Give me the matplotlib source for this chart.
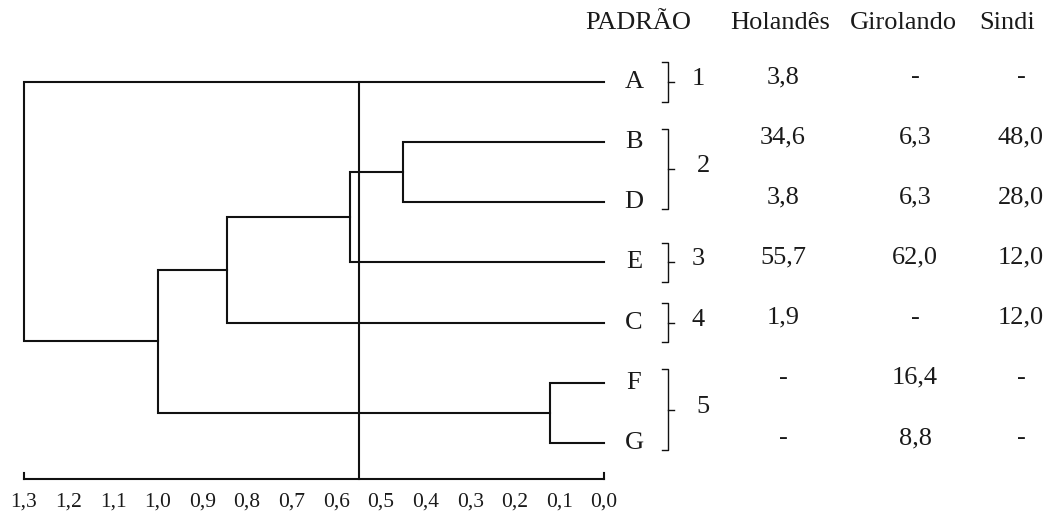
import matplotlib
matplotlib.use("Agg")
import matplotlib.pyplot as plt
import matplotlib.transforms as mtransforms

plt.rcParams['font.family'] = ['Liberation Serif', 'DejaVu Serif']

# leaves of the dendrogram (top to bottom)
leaves = ['A', 'B', 'D', 'E', 'C', 'F', 'G']
# merges: (left node, right node, distance)
merges = [('B', 'D', 0.45),
          ('BD', 'E', 0.57),
          ('BDE', 'C', 0.845),
          ('F', 'G', 0.12),
          ('BDEC', 'FG', 1.0),
          ('A', 'BDECFG', 1.3)]
cut_level = 0.55

# table beside the dendrogram
headers = ['PADRÃO', 'Holandês', 'Girolando', 'Sindi']
holandes = ['3,8', '34,6', '3,8', '55,7', '1,9', '-', '-']
girolando = ['-', '6,3', '6,3', '62,0', '-', '16,4', '8,8']
sindi = ['-', '48,0', '28,0', '12,0', '12,0', '-', '-']
groups = [['A'], ['B', 'D'], ['E'], ['C'], ['F', 'G']]
group_names = ['1', '2', '3', '4', '5']

x_ticks = [1.3, 1.2, 1.1, 1.0, 0.9, 0.8, 0.7, 0.6, 0.5, 0.4, 0.3, 0.2, 0.1, 0.0]

W, H = 1057, 520
fig = plt.figure(figsize=(W / 100, H / 100), dpi=100)
ax = fig.add_axes([24 / W, (H - 479) / H, 580 / W, 479 / H])
ax.set_xlim(1.3, 0)
ax.set_ylim(6.6, -1.36)

lc = '#111111'
lw = 1.5

# dendrogram from the merges
nodes = {name: (i, 0.0) for i, name in enumerate(leaves)}
for a, b, h in merges:
    ya, ha = nodes[a]
    yb, hb = nodes[b]
    ax.plot([ha, h, h, hb], [ya, ya, yb, yb], color=lc, lw=lw,
            solid_joinstyle='miter', clip_on=False)
    nodes[a + b] = ((ya + yb) / 2, h)

# cut line
y_bottom = ax.get_ylim()[0]
ax.plot([cut_level, cut_level], [0, y_bottom], color=lc, lw=lw, clip_on=False)

# axis: only bottom line with end ticks
for s in ['top', 'left', 'right']:
    ax.spines[s].set_visible(False)
ax.spines['bottom'].set_bounds(0, 1.3)
ax.spines['bottom'].set_linewidth(lw)
ax.spines['bottom'].set_color(lc)
ax.set_yticks([])
ax.set_xticks(x_ticks)
ax.set_xticklabels([f'{t:.1f}'.replace('.', ',') for t in x_ticks], fontsize=15.5)
ax.tick_params(axis='x', which='major', length=0, pad=10, colors='#1a1a1a')
# small upward ticks at both ends of the axis
for t in [x_ticks[0], x_ticks[-1]]:
    ax.plot([t, t], [y_bottom, y_bottom - 0.1], color=lc, lw=lw, clip_on=False)

# text columns (x in figure fraction, y in leaf rows)
tr = mtransforms.blended_transform_factory(fig.transFigure, ax.transData)
fs = 19
tc = '#1a1a1a'
head_x = [638, 780, 903, 1007]
col_x = [783, 915, 1021]
for x, t in zip(head_x, headers):
    ax.text(x / W, -0.98, t, transform=tr, ha='center', va='center', fontsize=fs, color=tc)

row = {name: i for i, name in enumerate(leaves)}
for i, name in enumerate(leaves):
    ax.text(634 / W, i, name, transform=tr, ha='center', va='center', fontsize=fs, color=tc)
    for x, col in zip(col_x, [holandes, girolando, sindi]):
        ax.text(x / W, i - 0.08, col[i], transform=tr, ha='center', va='center',
                fontsize=fs, color=tc)

# brackets with group numbers
bx = 668 / W
arm = 6 / W
for g, label in zip(groups, group_names):
    y0 = row[g[0]]
    y1 = row[g[-1]]
    if len(g) == 1:
        top, bot = y0 - 0.33, y1 + 0.33
    else:
        top, bot = y0 - 0.22, y1 + 0.12
    mid = (top + bot) / 2
    ax.plot([bx - arm, bx, bx, bx - arm], [top, top, bot, bot], color=lc, lw=1.0,
            transform=tr, clip_on=False)
    ax.plot([bx, bx + arm], [mid, mid], color=lc, lw=1.0, transform=tr, clip_on=False)
    ax.text(bx + 30 / W + (5 / W if len(g) > 1 else 0), mid - 0.05, label, transform=tr,
            ha='center', va='center', fontsize=fs, color=tc)

fig.savefig('out.png', dpi=100, facecolor='white')
